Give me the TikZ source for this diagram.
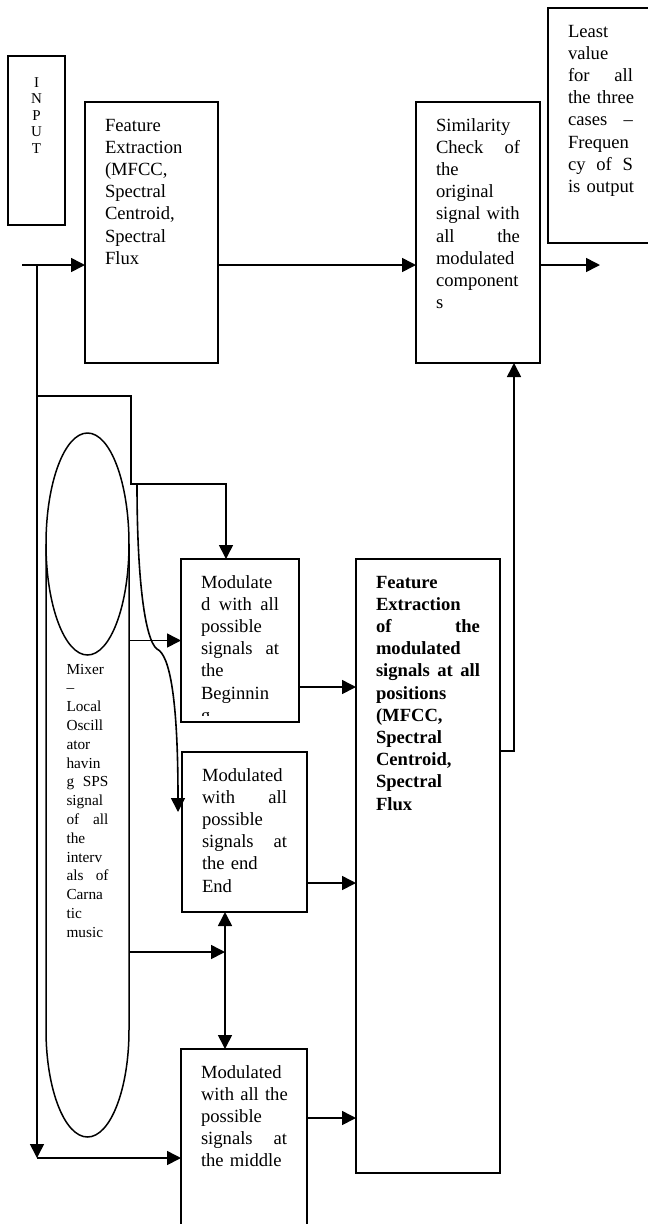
\documentclass[tikz,border=0pt]{standalone}
\usepackage{fontspec}
\setmainfont{Liberation Serif}
\usetikzlibrary{arrows.meta}
\hyphenpenalty=10000
\exhyphenpenalty=10000
\newcommand{\tnr}{\fontsize{18.6pt}{22.2pt}\selectfont}
\newcommand{\tns}{\fontsize{15.3pt}{18.8pt}\selectfont}
\newcommand{\tni}{\fontsize{15pt}{16.5pt}\selectfont}

\begin{document}
\begin{tikzpicture}[x=1pt,y=1pt,
                    box/.style={draw,line width=2pt,anchor=north west,align=left,
                                inner xsep=20pt,inner ysep=0pt,outer sep=0pt,
                                text height=29pt,font=\tnr},
                    bar/.style={-{Triangle[length=14pt,width=14pt]},line width=1.6pt},
                    dbar/.style={{Triangle[length=14pt,width=14pt]}-{Triangle[length=14pt,width=14pt]},line width=1.6pt},
                    oval/.style={line width=1.5pt}]

  \useasboundingbox (0,0) rectangle (648,-1224);

  \node[box,align=center,inner xsep=12pt,text width=33pt,text height=31pt,text depth=138pt,font=\tni] (In) at (8,-56) {I\\N\\P\\U\\T};
  \node[box,text width=93pt,text depth=232pt] (FE) at (85,-102) {Feature\\Extraction\\(MFCC,\\Spectral\\Centroid,\\Spectral\\Flux};
  \node[box,text width=84pt,text depth=232pt] (Sim) at (416,-102) {Similarity\\Check \hfill of\\the\\original\\signal~with\\all \hfill the\\modulated\\component\\s};
  \node[box,text width=65pt,text depth=206pt] (Least) at (548,-8) {Least\\value\\for \hfill all\\the~three\\cases \hfill –\\Frequen\\cy \hfill of \hfill S\\is~output};

  \node[draw=none,anchor=north west,align=left,inner xsep=20.5pt,inner ysep=0pt,outer sep=0pt,
        text width=42pt,text height=241pt,text depth=463pt,font=\tns] (Mix) at (46,-433)
       {Mixer\\–\\Local\\Oscill\\ator\\havin\\g \hfill SPS\\signal\\of \hfill all\\the\\interv\\als \hfill of\\Carna\\tic\\music};
  \draw[oval] ([yshift=-111pt]Mix.north) ellipse (41.5 and 111);
  \draw[oval] ([yshift=-111pt]Mix.north west) -- ([yshift=107pt]Mix.south west)
              arc (180:360:41.5 and 107) -- ([yshift=-111pt]Mix.north east);

  \node[box,text width=78pt,text depth=134pt] (ModB) at (181,-559) {Modulate\\d \hfill with \hfill all\\possible\\signals \hfill at\\the\\Beginnin};
  \node[box,text width=85pt,text depth=131pt] (ModE) at (182,-752) {Modulated\\with \hfill all\\possible\\signals \hfill at\\the~end\\End};
  \node[box,text width=86pt,text depth=201pt] (ModM) at (181,-1049) {Modulated\\with~all~the\\possible\\signals \hfill at\\the~middle};
  \node[box,text width=104pt,text depth=585pt,font=\tnr\bfseries] (FEm) at (356,-559) {Feature\\Extraction\\of \hfill the\\modulated\\signals \hfill at \hfill all\\positions\\(MFCC,\\Spectral\\Centroid,\\Spectral\\Flux};

  \begin{scope}
    \clip ([yshift=7pt]ModB.south west) rectangle ([yshift=10pt]ModB.south east);
    \node[anchor=base west,inner sep=0pt,font=\tnr] (ModBg) at ([xshift=20pt,yshift=-162.2pt]ModB.north west) {g};
  \end{scope}

  \coordinate (src) at (22,-265);
  \coordinate (sp) at (37,-265);
  \coordinate (out) at (600,-265);
  \coordinate (br) at (37,-396);
  \coordinate (tap) at (131,-484);
  \coordinate (cv) at (137,-484);
  \coordinate (cvEnd) at (178,-812);
  \coordinate (jn) at (225,-952);
  \coordinate (dn) at (37,-1158);
  \coordinate (oB) at ([yshift=-128pt]ModB.north east);
  \coordinate (oE) at ([yshift=-131pt]ModE.north east);
  \coordinate (oM) at ([yshift=-69pt]ModM.north east);
  \coordinate (oF) at ([yshift=-192pt]FEm.north east);

  \draw[bar] (src) -- (FE.west |- src);
  \draw[bar] (FE.east |- src) -- (Sim.west |- src);
  \draw[bar] (Sim.east |- src) -- (out);
  \draw[bar] (sp) -- (dn);
  \draw[bar] (dn) -- (ModM.west |- dn);
  \draw[bar] (br) -| (tap) -| ([xshift=-14pt]ModB.north);
  \draw[bar] (cv) .. controls (137,-580) and (145,-640) .. (157,-649)
                  .. controls (170,-655) and (178,-700) .. (cvEnd);
  \draw[bar] (Mix.east |- ModB.west) -- (ModB.west);
  \draw[bar] (Mix.east |- jn) -- (jn);
  \draw[dbar] (ModE.south -| jn) -- (ModM.north -| jn);
  \draw[bar] (oB) -- (FEm.west |- oB);
  \draw[bar] (oE) -- (FEm.west |- oE);
  \draw[bar] (oM) -- (FEm.west |- oM);
  \draw[bar] (oF) -| ([xshift=36pt]Sim.south);
\end{tikzpicture}
\end{document}
